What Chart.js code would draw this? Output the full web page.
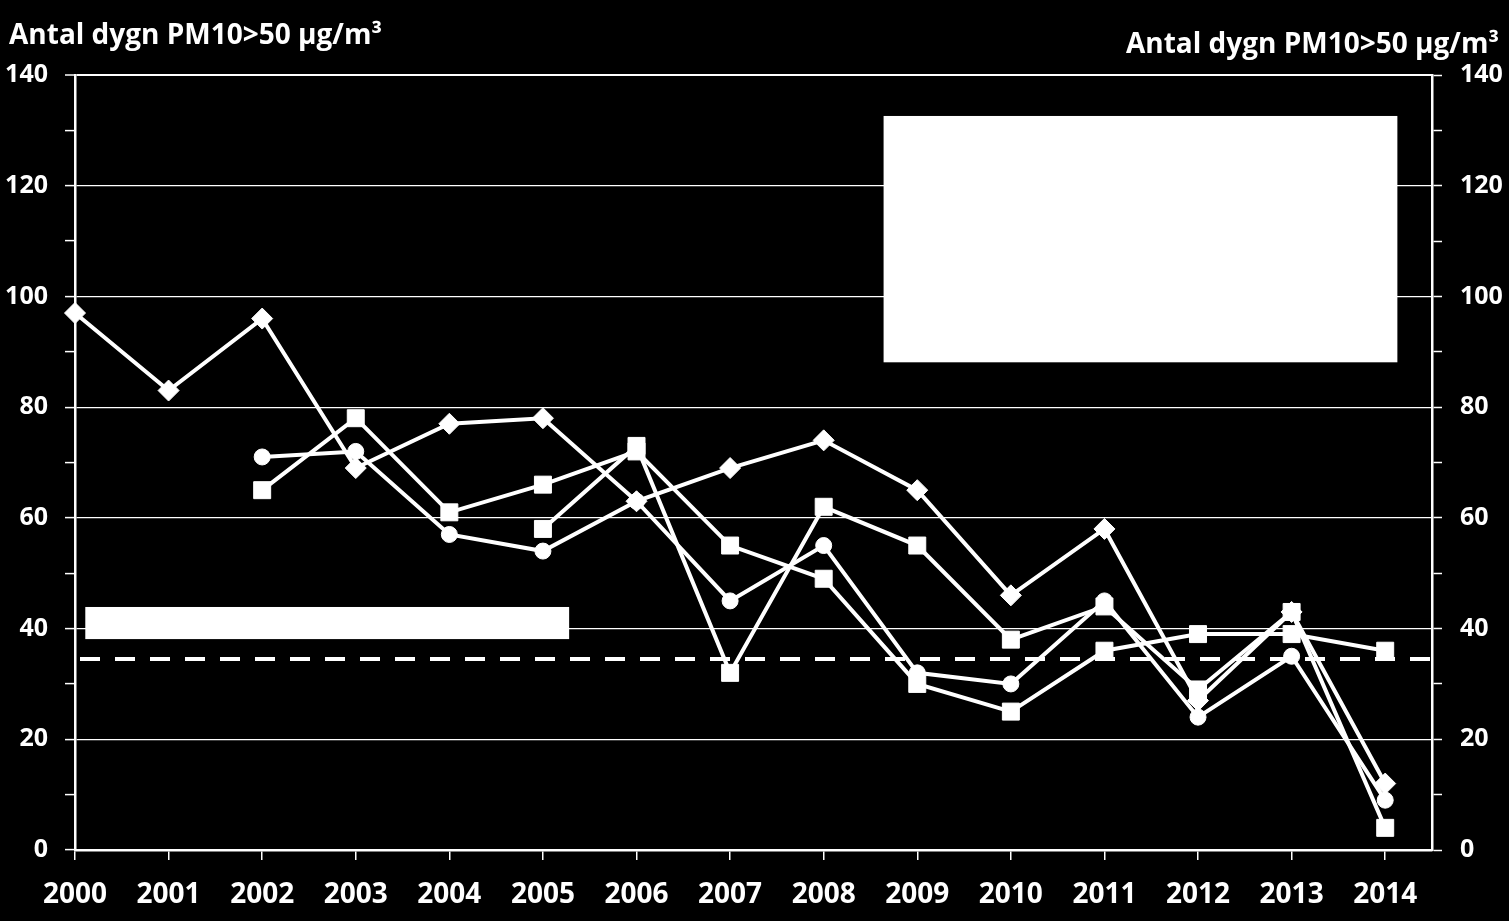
<!DOCTYPE html>
<html>
<head>
<meta charset="utf-8">
<script src="https://cdn.jsdelivr.net/npm/chart.js@4.4.1/dist/chart.umd.min.js"></script>
<style>
  html, body { margin: 0; padding: 0; background: #000; }
  canvas { display: block; }
</style>
</head>
<body>
<canvas id="pmChart" width="1509" height="921"></canvas>
<script>
  // Antal dygn med PM10 > 50 µg/m3, per station och år
  const years = [2000, 2001, 2002, 2003, 2004, 2005, 2006, 2007, 2008, 2009, 2010, 2011, 2012, 2013, 2014];
  const diamondDays = [97, 83, 96, 69, 77, 78, 63, 69, 74, 65, 46, 58, 27, 43, 12];
  const circleDays = [null, null, 71, 72, 57, 54, 63, 45, 55, 32, 30, 45, 24, 35, 9];
  const squareDaysA = [null, null, 65, 78, 61, 66, 72, 55, 49, 30, 25, 36, 39, 39, 36];
  const squareDaysB = [null, null, null, null, null, 58, 73, 32, 62, 55, 38, 44, 29, 43, 4];
  const limitDays = 34.5;
  const axisTitle = 'Antal dygn PM10>50 µg/m³';

  const font = '"Open Sans", "Liberation Sans", sans-serif';

  function toPoints(values) {
    return years.map((yr, i) => ({ x: yr, y: values[i] }));
  }

  function lineSet(label, values, style, radius) {
    return {
      label: label,
      data: toPoints(values),
      borderColor: '#fff',
      backgroundColor: '#fff',
      borderWidth: 4,
      pointStyle: style,
      pointRadius: radius,
      pointBackgroundColor: '#fff',
      pointBorderColor: '#fff',
      pointBorderWidth: 1,
      spanGaps: false,
      clip: false
    };
  }

  // dashed limit line (35 allowed days)
  const limitLine = {
    id: 'limitLine',
    beforeDatasetsDraw(chart) {
      const { ctx, chartArea, scales } = chart;
      const yPix = scales.y.getPixelForValue(limitDays);
      ctx.save();
      ctx.strokeStyle = '#fff';
      ctx.lineWidth = 4;
      ctx.setLineDash([20, 15]);
      ctx.beginPath();
      ctx.moveTo(chartArea.left + 5, yPix);
      ctx.lineTo(chartArea.right, yPix);
      ctx.stroke();
      ctx.restore();
    }
  };

  // white text boxes (legend area and the label box)
  const whiteBoxes = {
    id: 'whiteBoxes',
    afterDatasetsDraw(chart, args, opts) {
      const { ctx, scales: { x, y } } = chart;
      ctx.save();
      ctx.fillStyle = '#fff';
      opts.boxes.forEach(b => {
        const left = x.getPixelForValue(b.x0);
        const right = x.getPixelForValue(b.x1);
        const top = y.getPixelForValue(b.y1);
        const bottom = y.getPixelForValue(b.y0);
        ctx.fillRect(left, top, right - left, bottom - top);
      });
      ctx.restore();
    }
  };

  // axis titles above both y axes
  const axisTitles = {
    id: 'axisTitles',
    afterDraw(chart) {
      const { ctx } = chart;
      ctx.save();
      ctx.fillStyle = '#fff';
      ctx.font = 'bold 28px ' + font;
      ctx.textBaseline = 'alphabetic';
      ctx.textAlign = 'left';
      ctx.fillText(axisTitle, 9, 44);
      ctx.textAlign = 'right';
      ctx.fillText(axisTitle, 1499, 53);
      ctx.restore();
    }
  };

  const gridColor = ctx => (ctx.tick && ctx.tick.value % 20 === 0) ? '#fff' : 'rgba(0,0,0,0)';
  const gridWidth = ctx => (ctx.tick && ctx.tick.value === 140) ? 2 : 1.2;

  new Chart(document.getElementById('pmChart'), {
    type: 'line',
    data: {
      datasets: [
        lineSet('Station 1', diamondDays, 'rectRot', 10.5),
        lineSet('Station 2', circleDays, 'circle', 8),
        lineSet('Station 3', squareDaysA, 'rect', 12),
        lineSet('Station 4', squareDaysB, 'rect', 12)
      ]
    },
    options: {
      responsive: false,
      animation: false,
      layout: { padding: { top: 75 } },
      plugins: {
        legend: { display: false },
        tooltip: { enabled: false },
        whiteBoxes: {
          boxes: [
            { x0: 2008.64, x1: 2014.13, y0: 88.1, y1: 132.6 },
            { x0: 2000.11, x1: 2005.28, y0: 38.1, y1: 43.9 }
          ]
        }
      },
      scales: {
        x: {
          type: 'linear',
          min: 2000,
          max: 2014.5,
          afterFit: s => { s.height = 71; },
          ticks: {
            stepSize: 1,
            includeBounds: false,
            color: '#fff',
            padding: 18,
            maxRotation: 0,
            autoSkip: false,
            font: { family: font, size: 28, weight: 'bold' },
            callback: v => String(v)
          },
          grid: { drawOnChartArea: false, color: '#fff', tickColor: '#fff', tickLength: 10, lineWidth: 1.5 },
          border: { color: '#fff', width: 2.5 }
        },
        y: {
          position: 'left',
          min: 0,
          max: 140,
          afterFit: s => { s.width = 75; },
          ticks: {
            stepSize: 10,
            color: '#fff',
            padding: 17,
            font: { family: font, size: 25, weight: 'bold' },
            callback: v => (v % 20 === 0 ? String(v) : '')
          },
          grid: { color: gridColor, lineWidth: gridWidth, tickColor: '#fff', tickLength: 10, tickWidth: 1.5 },
          border: { color: '#fff', width: 2.5 }
        },
        y2: {
          position: 'right',
          min: 0,
          max: 140,
          afterFit: s => { s.width = 77; },
          ticks: {
            stepSize: 10,
            color: '#fff',
            padding: 18,
            font: { family: font, size: 25, weight: 'bold' },
            callback: v => (v % 20 === 0 ? String(v) : '')
          },
          grid: { drawOnChartArea: false, tickColor: '#fff', tickLength: 10, tickWidth: 1.5 },
          border: { color: '#fff', width: 2.5 }
        }
      }
    },
    plugins: [limitLine, whiteBoxes, axisTitles]
  });
</script>
</body>
</html>
